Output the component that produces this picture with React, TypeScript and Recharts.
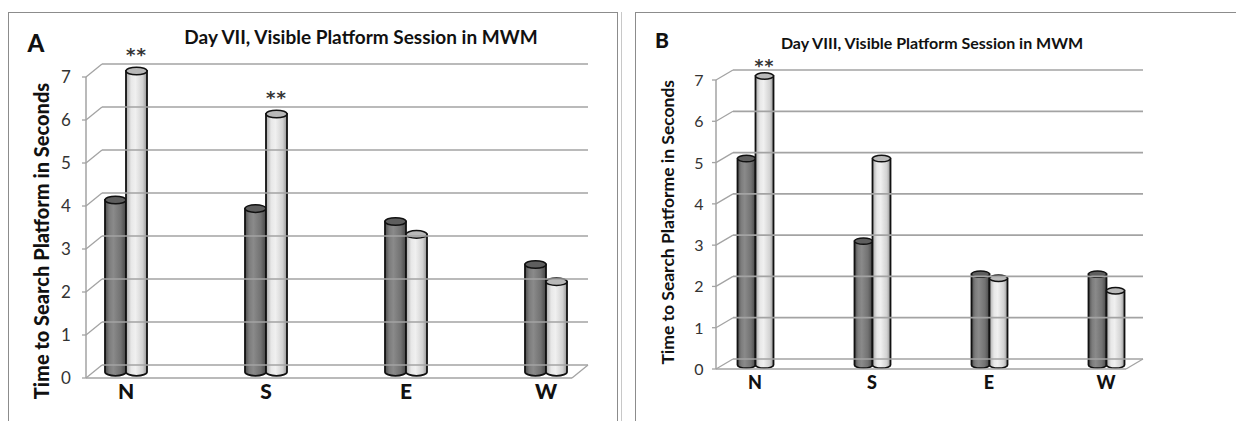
import React from 'react';
import { BarChart, Bar, XAxis, YAxis, LabelList } from 'recharts';

const categories = ['N', 'S', 'E', 'W'];
const yTicks = [0, 1, 2, 3, 4, 5, 6, 7];

const dayVIIDark = [4.0, 3.8, 3.5, 2.5];
const dayVIILight = [7.0, 6.0, 3.2, 2.1];
const dayVIIStars = ['**', '**', '', ''];

const dayVIIIDark = [5.0, 3.0, 2.2, 2.2];
const dayVIIILight = [7.0, 5.0, 2.1, 1.8];
const dayVIIIStars = ['**', '', '', ''];

const titleA = 'Day VII, Visible Platform Session in MWM';
const titleB = 'Day VIII, Visible Platform Session in MWM';
const yLabelA = 'Time to Search Platform in Seconds';
const yLabelB = 'Time to Search Platforme in Seconds';

const GRID = '#a3a3a3';
const FONT = 'Lato, "Open Sans", sans-serif';

type Cfg = {
  id: string;
  width: number;
  height: number;
  frontX: number;
  top: number;
  plotBottom: number;
  plotRight: number;
  padL: number;
  padR: number;
  barSize: number;
  barShift: number;
  backDx: number;
  backDy: number;
  labelX: number;
  tickFont: number;
  xFont: number;
  xDy: number;
  starGap: number;
  starFont: number;
  ry: number;
};

const cfgA: Cfg = {
  id: 'a', width: 620, height: 421, frontX: 86, top: 77, plotBottom: 378, plotRight: 588,
  padL: -30, padR: -28, barSize: 21, barShift: 6, backDx: 16, backDy: -13, labelX: 66,
  tickFont: 17, xFont: 21, xDy: 16, starGap: 10, starFont: 18, ry: 3.8,
};

const cfgB: Cfg = {
  id: 'b', width: 621, height: 421, frontX: 101, top: 80, plotBottom: 369, plotRight: 528,
  padL: -19.5, padR: -21.5, barSize: 18, barShift: 4, backDx: 17, backDy: -10, labelX: 84,
  tickFont: 16, xFont: 18, xDy: 15, starGap: 4, starFont: 17, ry: 3.2,
};

const buildData = (dark: number[], light: number[], stars: string[]) =>
  categories.map((c, i) => ({ cat: c, dark: dark[i], light: light[i], sig: stars[i] }));

const dataA = buildData(dayVIIDark, dayVIILight, dayVIIStars);
const dataB = buildData(dayVIIIDark, dayVIIILight, dayVIIIStars);

const makeYTick = (cfg: Cfg) => (props: any) => {
  const { y, payload } = props;
  const fx = cfg.frontX;
  const bx = fx + cfg.backDx;
  const by = y + cfg.backDy;
  return (
    <g>
      <line x1={fx - 4} y1={y} x2={fx} y2={y} stroke={GRID} strokeWidth={1.3} />
      <line x1={fx} y1={y} x2={bx} y2={by} stroke={GRID} strokeWidth={1.3} />
      <line x1={bx} y1={by} x2={cfg.plotRight} y2={by} stroke={GRID} strokeWidth={1.7} />
      {payload.value === 0 ? (
        <g>
          <line x1={fx} y1={y} x2={cfg.plotRight - cfg.backDx} y2={y} stroke={GRID} strokeWidth={1.7} />
          <line x1={cfg.plotRight - cfg.backDx} y1={y} x2={cfg.plotRight} y2={by} stroke={GRID} strokeWidth={1.3} />
        </g>
      ) : null}
      <text x={cfg.labelX} y={y + 2} textAnchor="middle" dominantBaseline="middle"
        fontFamily={FONT} fontSize={cfg.tickFont} fill="#333">{payload.value}</text>
    </g>
  );
};

const makeXTick = (cfg: Cfg) => (props: any) => {
  const { x, payload } = props;
  return (
    <text x={x} y={cfg.plotBottom + cfg.xDy} textAnchor="middle" dominantBaseline="middle"
      fontFamily={FONT} fontWeight="900" fontSize={cfg.xFont} fill="#111">{payload.value}</text>
  );
};

const makeCylinder = (cfg: Cfg, tone: 'dark' | 'light') => (props: any) => {
  const { x, y, width, height } = props;
  if (height == null || height <= 0) return null;
  const top = y - cfg.barShift;
  const bottom = y + height - cfg.barShift;
  const rx = width / 2;
  const ry = cfg.ry;
  const cx = x + width / 2;
  const gid = `grad-${cfg.id}-${tone}`;
  const stops = tone === 'dark'
    ? [['0', '#4c4c4c'], ['0.2', '#7c7c7c'], ['0.4', '#8a8a8a'], ['0.75', '#727272'], ['1', '#474747']]
    : [['0', '#a9a9a9'], ['0.25', '#e8e8e8'], ['0.45', '#f0f0f0'], ['0.8', '#d2d2d2'], ['1', '#939393']];
  const topFill = tone === 'dark' ? '#5e5e5e' : '#b8b8b8';
  return (
    <g>
      <defs>
        <linearGradient id={gid} x1="0" y1="0" x2="1" y2="0">
          {stops.map(([o, c]) => <stop key={o} offset={o} stopColor={c} />)}
        </linearGradient>
      </defs>
      <path
        d={`M${x},${top} L${x},${bottom} A${rx},${ry} 0 0 0 ${x + width},${bottom} L${x + width},${top} Z`}
        fill={`url(#${gid})`} stroke="#111" strokeWidth={1.8}
      />
      <ellipse cx={cx} cy={top} rx={rx} ry={ry} fill={topFill} stroke="#111" strokeWidth={1.5} />
    </g>
  );
};

const makeStar = (cfg: Cfg) => (props: any) => {
  const { x, y, width, value } = props;
  if (!value) return null;
  return (
    <text x={x + width / 2} y={y - cfg.barShift - cfg.starGap} textAnchor="middle"
      fontFamily="'DejaVu Sans', sans-serif" fontWeight="bold" fontSize={cfg.starFont}
      letterSpacing={1} fill="#333">{value}</text>
  );
};

const Panel = ({ cfg, data }: { cfg: Cfg; data: any[] }) => {
  const yAxisWidth = 60;
  const xAxisHeight = 30;
  return (
    <BarChart
      width={cfg.width}
      height={cfg.height}
      data={data}
      barGap={0}
      barSize={cfg.barSize}
      margin={{
        top: cfg.top,
        left: cfg.frontX - yAxisWidth,
        right: cfg.width - cfg.plotRight,
        bottom: cfg.height - cfg.plotBottom - xAxisHeight,
      }}
    >
      <XAxis dataKey="cat" height={xAxisHeight} axisLine={false} tickLine={false}
        padding={{ left: cfg.padL, right: cfg.padR }} tick={makeXTick(cfg)} interval={0} />
      <YAxis width={yAxisWidth} domain={[0, 7]} ticks={yTicks} interval={0} tickLine={false}
        axisLine={{ stroke: GRID, strokeWidth: 1.5 }} tick={makeYTick(cfg)} />
      <Bar dataKey="dark" isAnimationActive={false} shape={makeCylinder(cfg, 'dark')} />
      <Bar dataKey="light" isAnimationActive={false} shape={makeCylinder(cfg, 'light')}>
        <LabelList dataKey="sig" content={makeStar(cfg)} />
      </Bar>
    </BarChart>
  );
};

const abs = (l: number, t: number, extra: React.CSSProperties = {}): React.CSSProperties => ({
  position: 'absolute', left: l, top: t, ...extra,
});

const CenterText = ({ cx, cy, text, size, weight = 'bold', rotate = false, spacing = 0 }:
  { cx: number; cy: number; text: string; size: number; weight?: string; rotate?: boolean; spacing?: number }) => {
  const w = 600;
  const h = size * 1.4;
  return (
    <div style={abs(cx - w / 2, cy - h / 2, {
      width: w, height: h, lineHeight: `${h}px`, textAlign: 'center', fontFamily: FONT,
      fontSize: size, fontWeight: weight as any, color: '#111', whiteSpace: 'nowrap',
      letterSpacing: spacing, transform: rotate ? 'rotate(-90deg)' : undefined,
    })}>{text}</div>
  );
};

export default function App() {
  return (
    <div style={{ position: 'absolute', left: 0, top: 0, width: 1236, height: 421, background: '#fff', overflow: 'hidden' }}>
      <div style={abs(8, 12, { width: 610, height: 460, border: '1.5px solid #8c8c8c', boxSizing: 'border-box' })} />
      <div style={abs(621, 12, { width: 1, height: 420, background: '#c8c8c8' })} />
      <div style={abs(635, 12, { width: 700, height: 460, border: '1.5px solid #8c8c8c', boxSizing: 'border-box' })} />

      <div style={abs(0, 0)}>
        <Panel cfg={cfgA} data={dataA} />
      </div>
      <div style={abs(615, 0)}>
        <Panel cfg={cfgB} data={dataB} />
      </div>

      <CenterText cx={36} cy={43} text="A" size={24} weight="900" />
      <CenterText cx={361} cy={37} text={titleA} size={19} />
      <CenterText cx={41} cy={241} text={yLabelA} size={20} weight="900" rotate />

      <CenterText cx={662} cy={40} text="B" size={21} weight="900" />
      <CenterText cx={932} cy={43} text={titleB} size={16} />
      <CenterText cx={668} cy={222} text={yLabelB} size={17.5} rotate />
    </div>
  );
}
